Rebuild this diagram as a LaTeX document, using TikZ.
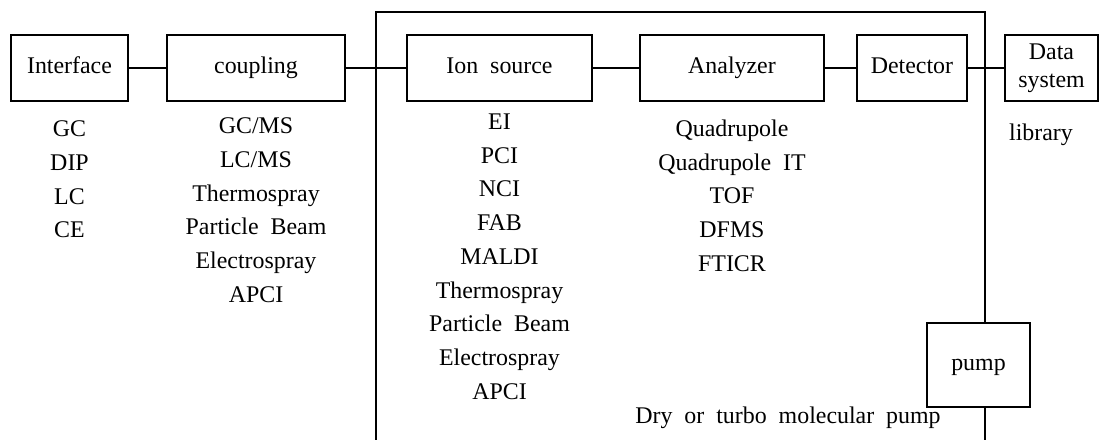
\documentclass[tikz,border=0pt]{standalone}
\usepackage{fontspec}
\setmainfont{Liberation Serif}
\usetikzlibrary{calc}

\begin{document}
\begin{tikzpicture}[
        line width=1.2pt,
        font=\fontsize{17}{24}\selectfont,
        box/.style={draw, rectangle, minimum height=1.65cm, inner sep=0pt},
        unit/.style={box, text height=0.8em, text depth=0pt},
        list/.style={align=center, anchor=north, inner sep=0pt},
        link/.style={line width=1.2pt},
        frame/.style={line width=1.2pt}
    ]
        \useasboundingbox (0,0) rectangle (27.5,-11);

        % Main units
        \node (iface) [unit, minimum width=2.925cm] at (1.7375,-1.7) {Interface};
        \node (coupl) [unit, minimum width=4.45cm] at (6.4,-1.7) {coupling};
        \node (ionsrc) [unit, minimum width=4.625cm] at (12.4875,-1.7) {Ion\ \ source};
        \node (analyzer) [unit, minimum width=4.6cm] at (18.3,-1.7) {Analyzer};
        \node (detector) [unit, minimum width=2.75cm] at (22.8,-1.7) {Detector};
        \node (datasys) [box, minimum width=2.325cm, align=center,
            font=\fontsize{17}{19.8}\selectfont] at (26.2875,-1.7) {Data\\system};
        \node (pump) [unit, minimum width=2.575cm, minimum height=2.1cm] at (24.4625,-9.125) {pump};

        % Vacuum enclosure
        \coordinate (encl sw) at (9.4,-11);
        \coordinate (encl nw) at (9.4,-0.3);
        \coordinate (encl ne) at (24.625,-0.3);
        \coordinate (encl se) at (24.625,-11);
        \draw[frame] (encl sw) -- (encl nw) -- (encl ne) -- (pump.north -| encl ne);
        \draw[frame] (pump.south -| encl se) -- (encl se);

        % Links
        \draw[link] (iface) -- (coupl);
        \draw[link] (coupl) -- (ionsrc);
        \draw[link] (ionsrc) -- (analyzer);
        \draw[link] (analyzer) -- (detector);
        \draw[link] (detector) -- (datasys);

        % Lists under the units
        \node (iface_list) [list] at (1.7375,-3.0) {GC\\DIP\\LC\\CE};
        \node (coupl_list) [list] at (6.4,-2.925) {GC/MS\\LC/MS\\Thermospray\\Particle\ \ Beam\\Electrospray\\APCI};
        \node (ion_list) [list] at (12.4875,-2.825) {EI\\PCI\\NCI\\FAB\\MALDI\\Thermospray\\Particle\ \ Beam\\Electrospray\\APCI};
        \node (ana_list) [list] at (18.3,-2.975) {Quadrupole\\Quadrupole\ \ IT\\TOF\\DFMS\\FTICR};
        \node (library) [list] at (26.025,-3.075) {library};

        % Pump note
        \node (pump_note) [anchor=base, inner sep=0pt] at (19.7,-10.575) {Dry\ \ or\ \ turbo\ \ molecular\ \ pump};
    \end{tikzpicture}
\end{document}
